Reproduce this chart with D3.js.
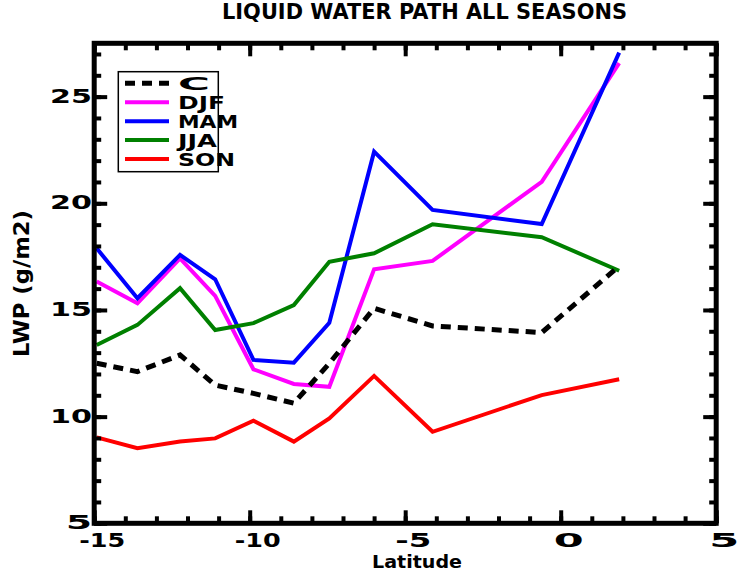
<!DOCTYPE html>
<html>
<head>
<meta charset="utf-8">
<script src="https://cdn.jsdelivr.net/npm/d3@7"></script>
<style>
body { margin: 0; background: #fff; }
text { font-family: "DejaVu Sans", "Liberation Sans", sans-serif; font-weight: bold; fill: #000; }
</style>
</head>
<body>
<svg id="chart" width="741" height="571"></svg>
<script>
// latitude of each point
const lat = [-14.92, -13.61, -12.24, -11.11, -9.88, -8.58, -7.44, -6.0, -4.12, -0.61, 1.88];
// LWP (g/m2) per season
const clim = [12.50, 12.11, 12.89, 11.48, 11.09, 10.63, 12.5, 15.08, 14.25, 13.94, 17.06];
const djf = [16.33, 15.31, 17.42, 15.66, 12.22, 11.53, 11.40, 16.91, 17.30, 21.01, 26.57];
const mam = [17.89, 15.55, 17.58, 16.44, 12.66, 12.53, 14.40, 22.42, 19.69, 19.03, 27.06];
const jja = [13.36, 14.30, 16.02, 14.06, 14.38, 15.23, 17.26, 17.66, 19.02, 18.41, 16.84];
const son = [9.03, 8.52, 8.83, 8.98, 9.81, 8.83, 9.92, 11.91, 9.29, 11.01, 11.75];

const seriesNames = ["C", "DJF", "MAM", "JJA", "SON"];
const xTicks = [-15, -10, -5, 0, 5];
const yTicks = [5, 10, 15, 20, 25];

const series = [
	{ name: seriesNames[0], values: clim, color: "#000000", dash: "10,7", width: 5 },
	{ name: seriesNames[1], values: djf, color: "#ff00ff", dash: null, width: 4 },
	{ name: seriesNames[2], values: mam, color: "#0000ff", dash: null, width: 4 },
	{ name: seriesNames[3], values: jja, color: "#008000", dash: null, width: 4 },
	{ name: seriesNames[4], values: son, color: "#ff0000", dash: null, width: 4 }
];

const svg = d3.select("#chart");
const pLeft = 94.2, pRight = 716.2, pTop = 43.3, pBottom = 523.3;

const x = d3.scaleLinear().domain([-15, 5]).range([pLeft, pRight]);
const y = d3.scaleLinear().domain([5, 27.5]).range([pBottom, pTop]);

// text fitted to the width it takes in the IDL plot
function fittedText(str, x0, base, size, width, rot) {
	const t = svg.append("text")
		.attr("transform", rot ? `translate(${x0},${base}) rotate(-90)` : `translate(${x0},${base})`)
		.attr("font-size", size)
		.attr("textLength", width)
		.attr("lengthAdjust", "spacingAndGlyphs")
		.text(str);
	return t;
}

// lines
const line = d3.line().x((d, i) => x(lat[i])).y(d => y(d));
svg.append("g").selectAll("path")
	.data(series.slice(1).concat([series[0]]))
	.enter()
	.append("path")
	.attr("d", d => line(d.values))
	.attr("fill", "none")
	.attr("stroke", d => d.color)
	.attr("stroke-width", d => d.width)
	.attr("stroke-dasharray", d => d.dash)
	.attr("stroke-linejoin", "miter");

// ticks on all four sides, pointing in
const xMinor = d3.range(-15, 5.01, 1);
const yMinor = d3.range(5, 27.6, 1);

function ticks(axisFn, scale, minor, major, transform) {
	[[minor, 7], [major, 13]].forEach(([vals, len]) => {
		svg.append("g").attr("transform", transform)
			.call(axisFn(scale).tickValues(vals).tickSize(-len).tickFormat(""))
			.call(g => g.select(".domain").remove())
			.call(g => g.selectAll("line").attr("stroke", "#000").attr("stroke-width", 4));
	});
}
ticks(d3.axisBottom, x, xMinor, xTicks, `translate(0,${pBottom})`);
ticks(d3.axisTop, x, xMinor, xTicks, `translate(0,${pTop})`);
ticks(d3.axisLeft, y, yMinor, yTicks, `translate(${pLeft},0)`);
ticks(d3.axisRight, y, yMinor, yTicks, `translate(${pRight},0)`);

svg.append("rect")
	.attr("x", pLeft).attr("y", pTop)
	.attr("width", pRight - pLeft).attr("height", pBottom - pTop)
	.attr("fill", "none").attr("stroke", "#000").attr("stroke-width", 5);

// tick labels
xTicks.forEach(v => {
	const s = String(v);
	const w = s.length === 1 ? 30 : (s.length === 2 ? 36 : 46);
	fittedText(s, x(v) + 8 - w / 2, 547, 19, w);
});
yTicks.forEach(v => {
	const s = String(v);
	const w = s.length === 1 ? 26 : 42;
	fittedText(s, 92 - w, y(v) + 6, 19, w);
});

// titles
fittedText("LIQUID WATER PATH ALL SEASONS", 222, 19, 22, 405);
fittedText("Latitude", 372, 568, 17, 90);
fittedText("LWP (g/m2)", 29, 357, 21, 147, true);

// legend
const legend = svg.append("g");
legend.append("rect")
	.attr("x", 118.3).attr("y", 71.7).attr("width", 100).attr("height", 100)
	.attr("fill", "#fff").attr("stroke", "#000").attr("stroke-width", 1.5);
const rowY = d3.scaleLinear().domain([0, 4]).range([83.3, 159]);
const labelW = [32, 47, 60, 39, 57];
series.forEach((s, i) => {
	legend.append("line")
		.attr("x1", 125).attr("x2", 169)
		.attr("y1", rowY(i)).attr("y2", rowY(i))
		.attr("stroke", s.color).attr("stroke-width", s.width)
		.attr("stroke-dasharray", s.dash);
	fittedText(s.name, 178, rowY(i) + 6.5, 18, labelW[i]);
});
</script>
</body>
</html>
